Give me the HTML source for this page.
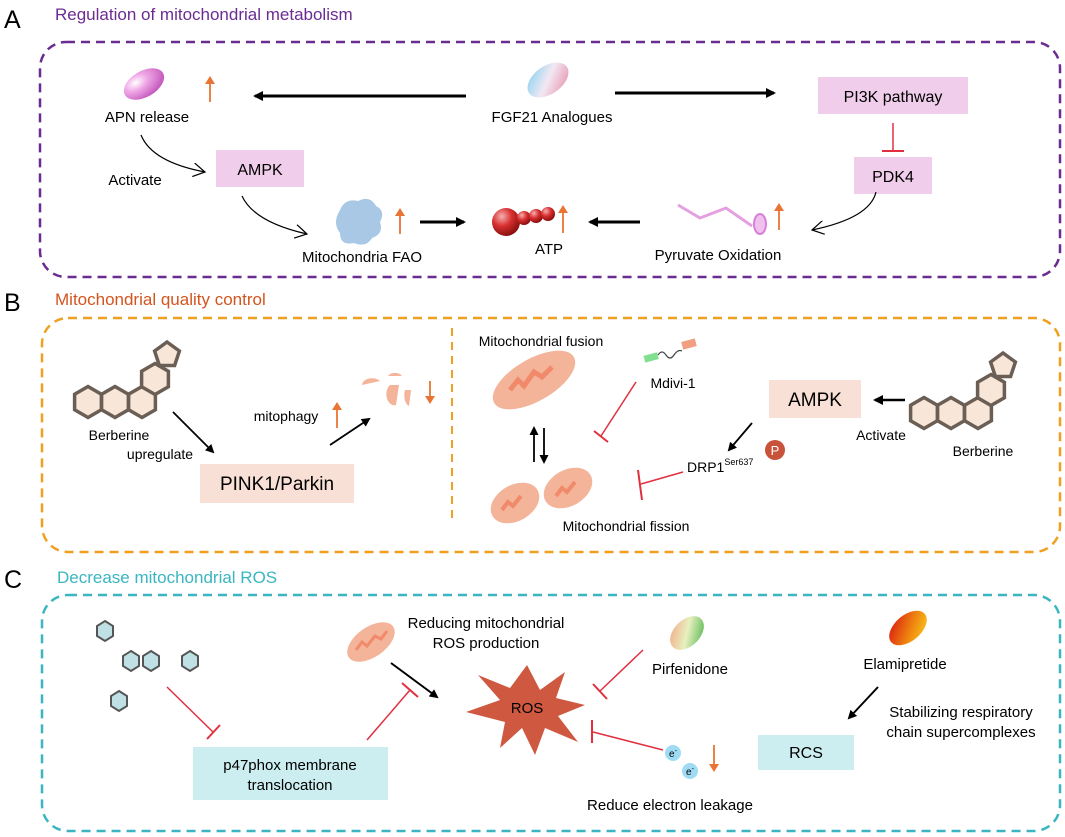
<!DOCTYPE html>
<html><head><meta charset="utf-8"><style>
html,body{margin:0;padding:0;background:#fff;}
svg{display:block;font-family:"Liberation Sans",Arial,sans-serif;}
</style></head><body>
<svg width="1065" height="837" viewBox="0 0 1065 837" xmlns="http://www.w3.org/2000/svg">
<defs>
<marker id="ah" markerWidth="10" markerHeight="10" refX="8" refY="5" orient="auto" markerUnits="userSpaceOnUse"><path d="M0,0 L10,5 L0,10 z" fill="#000"/></marker>
<marker id="ahs" markerWidth="9" markerHeight="9" refX="7" refY="4.5" orient="auto" markerUnits="userSpaceOnUse"><path d="M0,0 L9,4.5 L0,9 z" fill="#000"/></marker>
<marker id="oa" markerWidth="14" markerHeight="14" refX="12" refY="7" orient="auto" markerUnits="userSpaceOnUse"><path d="M0,0 L12,7 L0,14" fill="none" stroke="#000" stroke-width="1.2"/></marker>
<marker id="or" markerWidth="8" markerHeight="10" refX="6" refY="5" orient="auto" markerUnits="userSpaceOnUse"><path d="M0,0 L8,5 L0,10 z" fill="#ea7434"/></marker>
<radialGradient id="pink" cx="35%" cy="30%" r="70%"><stop offset="0" stop-color="#fff"/><stop offset=".4" stop-color="#f0a8e6"/><stop offset="1" stop-color="#c65cc0"/></radialGradient>
<linearGradient id="fgf" x1="0" y1="0" x2="1" y2="1"><stop offset="0" stop-color="#7fd0f0"/><stop offset=".5" stop-color="#f3e8f3"/><stop offset="1" stop-color="#e58aa6"/></linearGradient>
<radialGradient id="atp" cx="35%" cy="30%" r="70%"><stop offset="0" stop-color="#f7b0b0"/><stop offset=".5" stop-color="#d83030"/><stop offset="1" stop-color="#8c1010"/></radialGradient>
<linearGradient id="pir" x1="0" y1="0" x2="1" y2="1"><stop offset="0" stop-color="#f4a080"/><stop offset=".5" stop-color="#e8f0c0"/><stop offset="1" stop-color="#40b040"/></linearGradient>
<linearGradient id="ela" x1="0" y1="0" x2="1" y2="1"><stop offset="0" stop-color="#d81010"/><stop offset=".6" stop-color="#f08a10"/><stop offset="1" stop-color="#f8d020"/></linearGradient>
<g id="hex"><path d="M0,-10 L8,-5 L8,5 L0,10 L-8,5 L-8,-5 Z" fill="#bfe0e4" stroke="#555" stroke-width="2"/></g>
<g id="bh"><path d="M0,-15.5 L13.4,-7.75 L13.4,7.75 L0,15.5 L-13.4,7.75 L-13.4,-7.75 Z" fill="#f8e6d8" stroke="#6a5e55" stroke-width="3.5"/></g>
<g id="bp"><path d="M0,-13 L12.4,-4 L7.6,10.5 L-7.6,10.5 L-12.4,-4 Z" fill="#f8e6d8" stroke="#6a5e55" stroke-width="3.5"/></g>
</defs>

<!-- Titles -->
<text x="4" y="28" font-size="25">A</text>
<text x="55" y="20" font-size="17" fill="#6b2c91">Regulation of mitochondrial metabolism</text>
<text x="4" y="311" font-size="25">B</text>
<text x="55" y="305" font-size="17" fill="#d4541f">Mitochondrial quality control</text>
<text x="4" y="588" font-size="25">C</text>
<text x="57" y="583" font-size="17" fill="#3bb6c0">Decrease mitochondrial ROS</text>

<!-- Boxes -->
<rect x="40" y="42" width="1020" height="235" rx="26" fill="none" stroke="#6b2c91" stroke-width="2.5" stroke-dasharray="9,6"/>
<rect x="42" y="318" width="1018" height="234" rx="26" fill="none" stroke="#f0a020" stroke-width="2.5" stroke-dasharray="9,6"/>
<rect x="42" y="595" width="1018" height="236" rx="26" fill="none" stroke="#3bb6c0" stroke-width="2.5" stroke-dasharray="9,6"/>

<!-- Panel A -->
<ellipse cx="144" cy="84" rx="22" ry="13" transform="rotate(-30 144 84)" fill="url(#pink)"/>
<line x1="210" y1="102" x2="210" y2="78" stroke="#ea7434" stroke-width="1.8" marker-end="url(#or)"/>
<text x="147" y="122" font-size="15" text-anchor="middle">APN release</text>
<line x1="466" y1="96" x2="255" y2="96" stroke="#000" stroke-width="3" marker-end="url(#ah)"/>
<ellipse cx="548" cy="80" rx="23" ry="14" transform="rotate(-35 548 80)" fill="url(#fgf)"/>
<text x="552" y="122" font-size="15" text-anchor="middle">FGF21 Analogues</text>
<line x1="615" y1="93" x2="774" y2="93" stroke="#000" stroke-width="3" marker-end="url(#ah)"/>
<rect x="818" y="77" width="150" height="37" fill="#f0cdea"/>
<text x="893" y="102" font-size="16" text-anchor="middle">PI3K pathway</text>
<line x1="893" y1="123" x2="893" y2="150" stroke="#e03040" stroke-width="1.5"/>
<line x1="882" y1="151" x2="904" y2="151" stroke="#e03040" stroke-width="2"/>
<rect x="854" y="157" width="78" height="37" fill="#f0cdea"/>
<text x="893" y="182" font-size="16" text-anchor="middle">PDK4</text>
<rect x="216" y="150" width="88" height="37" fill="#f0cdea"/>
<text x="260" y="175" font-size="16" text-anchor="middle">AMPK</text>
<text x="135" y="185" font-size="15" text-anchor="middle">Activate</text>
<path d="M141,135 Q152,162 205,172" fill="none" stroke="#000" stroke-width="1.2" marker-end="url(#oa)"/>
<path d="M242,196 Q254,222 307,234" fill="none" stroke="#000" stroke-width="1.2" marker-end="url(#oa)"/>
<path d="M340,210 q5,-12 18,-9 q12,-6 18,5 q10,5 4,16 q4,12 -8,16 q-6,10 -18,5 q-14,3 -14,-10 q-8,-10 0,-23z" fill="#a9c8e6"/>
<line x1="400" y1="234" x2="400" y2="210" stroke="#ea7434" stroke-width="1.8" marker-end="url(#or)"/>
<line x1="420" y1="222" x2="464" y2="222" stroke="#000" stroke-width="3" marker-end="url(#ah)"/>
<circle cx="506" cy="222" r="14" fill="url(#atp)"/>
<circle cx="524" cy="218" r="7" fill="url(#atp)"/>
<circle cx="536" cy="216" r="7" fill="url(#atp)"/>
<circle cx="548" cy="214" r="7" fill="url(#atp)"/>
<line x1="563" y1="233" x2="563" y2="207" stroke="#ea7434" stroke-width="1.8" marker-end="url(#or)"/>
<text x="549" y="254" font-size="15" text-anchor="middle">ATP</text>
<line x1="640" y1="222" x2="590" y2="222" stroke="#000" stroke-width="3" marker-end="url(#ah)"/>
<path d="M678,205 L700,218 L726,208 L752,226" fill="none" stroke="#e4a0e0" stroke-width="3"/>
<ellipse cx="760" cy="224" rx="6" ry="10" fill="#f0c0ee" stroke="#d880d6" stroke-width="2"/>
<line x1="779" y1="230" x2="779" y2="205" stroke="#ea7434" stroke-width="1.8" marker-end="url(#or)"/>
<text x="362" y="262" font-size="15" text-anchor="middle">Mitochondria FAO</text>
<text x="718" y="260" font-size="15" text-anchor="middle">Pyruvate Oxidation</text>
<path d="M876,192 Q870,218 812,230" fill="none" stroke="#000" stroke-width="1.2" marker-end="url(#oa)"/>

<!-- Panel B -->
<use href="#bh" x="88" y="402"/><use href="#bh" x="115" y="402"/><use href="#bh" x="142" y="402"/>
<use href="#bh" x="155" y="379"/><use href="#bp" x="167" y="355"/>
<text x="119" y="440" font-size="14" text-anchor="middle">Berberine</text>
<line x1="173" y1="412" x2="213" y2="452" stroke="#000" stroke-width="1.8" marker-end="url(#ahs)"/>
<text x="160" y="459" font-size="14" text-anchor="middle">upregulate</text>
<rect x="200" y="464" width="154" height="39" fill="#f9e0d6"/>
<text x="277" y="490" font-size="19" text-anchor="middle">PINK1/Parkin</text>
<text x="286" y="421" font-size="14" text-anchor="middle">mitophagy</text>
<line x1="337" y1="428" x2="337" y2="404" stroke="#ea7434" stroke-width="1.8" marker-end="url(#or)"/>
<line x1="330" y1="445" x2="369" y2="419" stroke="#000" stroke-width="1.8" marker-end="url(#ahs)"/>
<path d="M362,385 a10,7 0 0 1 18,-4 z" fill="#f4b49a"/>
<path d="M388,376 a8,6 0 0 1 14,0 z" fill="#f4b49a"/>
<path d="M390,385 a8,11 0 0 0 6,20 l3,-20 z" fill="#f4b49a"/>
<path d="M405,390 a6,11 0 0 0 4,16 l2,-16 z" fill="#f4b49a"/>
<line x1="430" y1="381" x2="430" y2="402" stroke="#ea7434" stroke-width="1.8" marker-end="url(#or)"/>
<line x1="452" y1="328" x2="452" y2="524" stroke="#f0a020" stroke-width="2" stroke-dasharray="8,6"/>
<text x="541" y="346" font-size="14" text-anchor="middle">Mitochondrial fusion</text>
<ellipse cx="534" cy="380" rx="46" ry="21" transform="rotate(-30 534 380)" fill="#f4b49a"/>
<path d="M510,390 l8,-10 l6,6 l10,-14 l8,5 l10,-10" fill="none" stroke="#f08a6a" stroke-width="5"/>
<line x1="534" y1="462" x2="534" y2="428" stroke="#000" stroke-width="1.8" marker-end="url(#ahs)"/>
<line x1="544" y1="428" x2="544" y2="462" stroke="#000" stroke-width="1.8" marker-end="url(#ahs)"/>
<ellipse cx="515" cy="503" rx="26" ry="18" transform="rotate(-30 515 503)" fill="#f4b49a"/>
<ellipse cx="568" cy="488" rx="26" ry="18" transform="rotate(-30 568 488)" fill="#f4b49a"/>
<path d="M502,510 l6,-8 l5,4 l8,-10" fill="none" stroke="#f08a6a" stroke-width="4"/>
<path d="M556,496 l6,-8 l5,4 l8,-10" fill="none" stroke="#f08a6a" stroke-width="4"/>
<text x="626" y="531" font-size="14" text-anchor="middle">Mitochondrial fission</text>
<rect x="644" y="354" width="14" height="7" fill="#80e090" transform="rotate(-15 651 357)"/>
<path d="M658,355 q4,-6 8,0 q4,6 8,0 q4,-6 8,-4" fill="none" stroke="#444" stroke-width="1.2"/>
<rect x="682" y="340" width="14" height="8" fill="#f0a080" transform="rotate(-15 689 344)"/>
<text x="673" y="388" font-size="14" text-anchor="middle">Mdivi-1</text>
<line x1="636" y1="382" x2="601" y2="436" stroke="#e03040" stroke-width="1.5"/>
<line x1="594" y1="431" x2="608" y2="442" stroke="#e03040" stroke-width="2"/>
<line x1="683" y1="472" x2="641" y2="484" stroke="#e03040" stroke-width="1.5"/>
<line x1="638" y1="470" x2="642" y2="500" stroke="#e03040" stroke-width="2"/>
<text x="687" y="472" font-size="14">DRP1<tspan font-size="9" dy="-7">Ser637</tspan></text>
<circle cx="775" cy="450" r="10" fill="#c9533a"/>
<text x="775" y="455" font-size="13" fill="#fff" text-anchor="middle">P</text>
<line x1="752" y1="423" x2="729" y2="450" stroke="#000" stroke-width="1.8" marker-end="url(#ahs)"/>
<rect x="769" y="380" width="92" height="38" fill="#f9e0d6"/>
<text x="815" y="406" font-size="19" text-anchor="middle">AMPK</text>
<line x1="905" y1="400" x2="875" y2="400" stroke="#000" stroke-width="2.5" marker-end="url(#ah)"/>
<use href="#bh" x="924" y="413"/><use href="#bh" x="951" y="413"/><use href="#bh" x="978" y="413"/>
<use href="#bh" x="991" y="390"/><use href="#bp" x="1003" y="366"/>
<text x="881" y="440" font-size="14" text-anchor="middle">Activate</text>
<text x="983" y="456" font-size="14" text-anchor="middle">Berberine</text>

<!-- Panel C -->
<use href="#hex" x="105" y="631"/>
<use href="#hex" x="131" y="661"/><use href="#hex" x="151" y="661"/><use href="#hex" x="190" y="661"/>
<use href="#hex" x="119" y="701"/>
<line x1="167" y1="687" x2="213" y2="732" stroke="#e03040" stroke-width="1.5"/>
<line x1="207" y1="739" x2="220" y2="725" stroke="#e03040" stroke-width="2"/>
<rect x="193" y="747" width="195" height="53" fill="#cdeef0"/>
<text x="290" y="770" font-size="15" text-anchor="middle">p47phox membrane</text>
<text x="290" y="790" font-size="15" text-anchor="middle">translocation</text>
<line x1="367" y1="740" x2="410" y2="690" stroke="#e03040" stroke-width="1.5"/>
<line x1="402" y1="683" x2="418" y2="697" stroke="#e03040" stroke-width="2"/>
<ellipse cx="371" cy="642" rx="27" ry="15" transform="rotate(-35 371 642)" fill="#f4b49a"/>
<path d="M356,650 l6,-8 l5,4 l8,-10 l6,3 l6,-8" fill="none" stroke="#f08a6a" stroke-width="3"/>
<text x="486" y="628" font-size="15" text-anchor="middle">Reducing mitochondrial</text>
<text x="486" y="648" font-size="15" text-anchor="middle">ROS production</text>
<line x1="391" y1="663" x2="437" y2="697" stroke="#000" stroke-width="2" marker-end="url(#ahs)"/>
<path d="M527,665 L540,690 L565,672 L556,698 L585,705 L558,716 L578,742 L545,728 L535,755 L522,728 L500,748 L505,722 L466,712 L500,700 L478,675 L510,688 Z" fill="#cf5940"/>
<text x="527" y="713" font-size="15" text-anchor="middle">ROS</text>
<ellipse cx="687" cy="633" rx="20" ry="13" transform="rotate(-45 687 633)" fill="url(#pir)"/>
<text x="690" y="674" font-size="15" text-anchor="middle">Pirfenidone</text>
<line x1="643" y1="650" x2="600" y2="691" stroke="#e03040" stroke-width="1.5"/>
<line x1="593" y1="684" x2="607" y2="699" stroke="#e03040" stroke-width="2"/>
<line x1="663" y1="750" x2="593" y2="732" stroke="#e03040" stroke-width="1.5"/>
<line x1="592" y1="720" x2="592" y2="743" stroke="#e03040" stroke-width="2"/>
<circle cx="673" cy="753" r="8" fill="#9fdcf4"/><text x="673" y="757" font-size="10" text-anchor="middle">e<tspan font-size="7" dy="-4">-</tspan></text>
<circle cx="690" cy="771" r="8" fill="#9fdcf4"/><text x="690" y="775" font-size="10" text-anchor="middle">e<tspan font-size="7" dy="-4">-</tspan></text>
<line x1="714" y1="745" x2="714" y2="770" stroke="#ea7434" stroke-width="1.8" marker-end="url(#or)"/>
<text x="670" y="810" font-size="15" text-anchor="middle">Reduce electron leakage</text>
<ellipse cx="908" cy="628" rx="22" ry="13" transform="rotate(-40 908 628)" fill="url(#ela)"/>
<text x="905" y="669" font-size="15" text-anchor="middle">Elamipretide</text>
<line x1="878" y1="687" x2="849" y2="718" stroke="#000" stroke-width="2" marker-end="url(#ahs)"/>
<text x="961" y="717" font-size="15" text-anchor="middle">Stabilizing respiratory</text>
<text x="961" y="737" font-size="15" text-anchor="middle">chain supercomplexes</text>
<rect x="758" y="735" width="96" height="35" fill="#cdeef0"/>
<text x="806" y="758" font-size="16" text-anchor="middle">RCS</text>
</svg>
</body></html>
